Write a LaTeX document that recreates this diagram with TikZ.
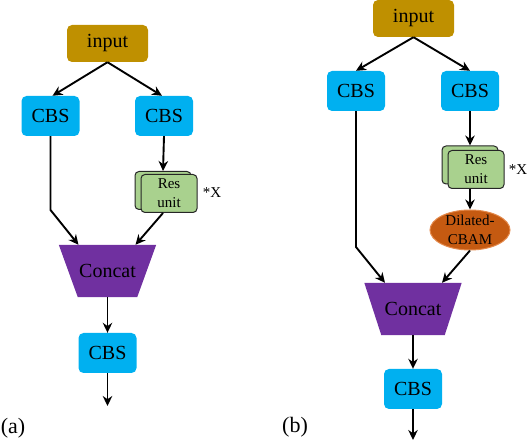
\documentclass[tikz,border=0pt]{standalone}
\usepackage{fontspec}
\setmainfont{Liberation Serif}
\newfontfamily\tnr{Liberation Serif}
\usetikzlibrary{arrows.meta,shapes.geometric,backgrounds}
\definecolor{gold}{HTML}{BF9000}
\definecolor{cbsblue}{HTML}{00B0F0}
\definecolor{resgreen}{HTML}{A9D18E}
\definecolor{orng}{HTML}{C55A11}
\definecolor{orngedge}{HTML}{E48A4C}
\definecolor{purp}{HTML}{7030A0}
\tikzset{
  inbox/.style={fill=gold, rounded corners=5pt, minimum width=81pt, minimum height=37pt, inner sep=0pt, font=\tnr\fontsize{20}{22}\selectfont},
  cbsbox/.style={fill=cbsblue, rounded corners=5pt, minimum width=58pt, minimum height=40pt, inner sep=0pt, font=\tnr\fontsize{20}{22}\selectfont},
  resbox/.style={fill=resgreen, draw=black!85, line width=1pt, rounded corners=4pt, minimum width=56pt, minimum height=38pt, inner sep=0pt, align=center, font=\tnr\fontsize{15}{19}\selectfont},
  ellbox/.style={ellipse, fill=orng, draw=orngedge, line width=1pt, minimum width=80pt, minimum height=40pt, inner xsep=-5pt, inner ysep=-5pt, align=center, font=\tnr\fontsize{15}{19}\selectfont},
  ccbox/.style={minimum width=97pt, minimum height=52pt, inner sep=0pt, font=\tnr\fontsize{20}{22}\selectfont},
  lab/.style={inner sep=0pt, font=\tnr\fontsize{22}{24}\selectfont},
  starlab/.style={inner sep=0pt, font=\tnr\fontsize{15}{17}\selectfont},
  arr/.style={line width=1.9pt, -{Stealth[length=10pt,width=9.5pt]}},
}
\newcommand{\trapfill}[2]{% node name, inset
  \fill[purp] (#1.north west) -- (#1.north east) -- ([xshift=-#2]#1.south east) -- ([xshift=#2]#1.south west) -- cycle;}
\begin{document}
\begin{tikzpicture}[x=1pt,y=-1pt]
\useasboundingbox (0,0) rectangle (528,443);
% ---------------- (a) ----------------
\node[inbox] (inA) at (107.5,43.5) {input};
\node[cbsbox] (cbsA1) at (50.5,116) {CBS};
\node[cbsbox] (cbsA2) at (164,116) {CBS};
\node[resbox] (resAb) at (163,190.5) {};
\node[resbox] (resA) at (169,193.5) {Res\\unit};
\node[starlab] (starA) at (212,193) {*X};
\node[ccbox] (ccA) at (107.5,271) {Concat};
\begin{scope}[on background layer]\trapfill{ccA}{19pt}\end{scope}
\node[cbsbox] (cbsA3) at (107.5,353) {CBS};
\coordinate (outA) at (107.5,406);
\node[lab] (labA) at (13,428) {(a)};
\draw[arr] (inA.south) -- ([xshift=2pt]cbsA1.north);
\draw[arr] (inA.south) -- ([xshift=-2pt]cbsA2.north);
\draw[arr] (cbsA2.south) -- (resAb.north);
\draw[arr] (cbsA1.south) -- (cbsA1.south |- 0,210) -- ([xshift=-29pt]ccA.north);
\draw[arr] (resAb.south |- resA.south) -- ([xshift=28pt]ccA.north);
\draw[arr] (ccA.south) -- (cbsA3.north);
\draw[arr] (cbsA3.south) -- (outA);
% ---------------- (b) ----------------
\node[inbox] (inB) at (413.5,18.5) {input};
\node[cbsbox] (cbsB1) at (356,91) {CBS};
\node[cbsbox] (cbsB2) at (470,91) {CBS};
\node[resbox] (resBb) at (470,165) {};
\node[resbox] (resB) at (476,169.5) {Res\\unit};
\node[starlab] (starB) at (518,170) {*X};
\node[ellbox] (ellB) at (470,230) {Dilated-\\CBAM};
\node[ccbox] (ccB) at (413,309) {Concat};
\begin{scope}[on background layer]\trapfill{ccB}{17pt}\end{scope}
\node[cbsbox] (cbsB3) at (413,389) {CBS};
\coordinate (outB) at (413,440);
\node[lab] (labB) at (295,427) {(b)};
\draw[arr] (inB.south) -- (cbsB1.north);
\draw[arr] (inB.south) -- (cbsB2.north);
\draw[arr] (cbsB2.south) -- (resBb.north);
\draw[arr] (resBb.south |- resB.south) -- (ellB.north);
\draw[arr] (cbsB1.south) -- (cbsB1.south |- 0,247) -- ([xshift=-28pt]ccB.north);
\draw[arr] (ellB.south) -- ([xshift=29pt]ccB.north);
\draw[arr] (ccB.south) -- (cbsB3.north);
\draw[arr] (cbsB3.south) -- (outB);
\end{tikzpicture}
\end{document}
